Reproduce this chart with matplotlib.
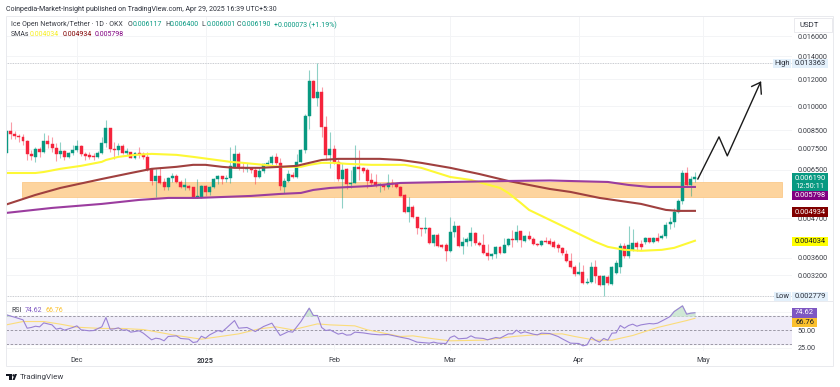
"""
ICE/USDT daily candles with SMAs and RSI, TradingView style
"""
import numpy as np
import matplotlib
matplotlib.use("Agg")
import matplotlib.pyplot as plt
from matplotlib.patches import Rectangle, Polygon, Circle

plt.rcParams["font.family"] = ["Roboto", "DejaVu Sans"]

# prices are in millionths of USDT, one entry per day from 14 Nov 2024
opens = [
    7295, 8460, 8290, 8179, 8125, 7909, 7246, 7102, 7494, 7345,
    7909, 7751, 7545, 7246, 7394, 7102, 7295, 7444, 7647, 7246,
    7198, 7150, 7102, 7295, 7803, 8631, 7494, 7444, 7647, 7295,
    7345, 7054, 7295, 7246, 7102, 6551, 6036, 6243, 5996, 5798,
    6159, 6243, 5996, 5798, 5837, 5798, 5420, 5420, 5837, 5606,
    5798, 6118, 6243, 6118, 6159, 6640, 7246, 6640, 6551, 6595,
    6500, 6201, 6456, 6775, 6821, 7102, 6821, 5798, 6036, 6285,
    6201, 6867, 7444, 9350, 11850, 10560, 11000, 8690, 7198, 7494,
    6867, 6118, 6551, 5916, 5956, 6640, 6595, 6500, 6077, 5996,
    5876, 5876, 5798, 5956, 5916, 5798, 5494, 4900, 5067, 4738,
    4400, 4370, 4400, 3977, 4197, 3924, 3924, 3769, 4283, 4459,
    3898, 4004, 4031, 4254, 3977, 3924, 3718, 3644, 3693, 3871,
    3718, 3924, 4086, 4058, 4312, 4031, 4169, 4086, 3950, 3924,
    4031, 4031, 4004, 3924, 3845, 3693, 3523, 3384, 3228, 3272,
    3038, 3058, 3384, 3185, 2997, 3163, 3017, 3250, 3384, 3898,
    3644, 3794, 3977, 3950, 4004, 4113, 4004, 4113, 4113, 4169,
    4520, 4581, 4900, 5276, 6370, 5876, 6117,
]
highs = [
    8515, 8988, 8460, 8290, 8290, 7962, 7444, 7596, 7596, 8346,
    8235, 8125, 7803, 7856, 7444, 7345, 7699, 7962, 7699, 7345,
    7345, 7295, 7394, 8125, 9110, 8631, 7856, 7803, 7751, 7545,
    7345, 7345, 7596, 7345, 7345, 6595, 6551, 6640, 6159, 6201,
    6370, 6327, 6077, 6159, 5876, 5798, 6118, 5876, 5876, 5837,
    6159, 6285, 6243, 6285, 7596, 7699, 7345, 6867, 6821, 6640,
    6640, 6640, 6821, 6954, 7198, 7295, 7054, 6159, 6500, 6413,
    7246, 7494, 9490, 12760, 11930, 13363, 11400, 9350, 8403, 7699,
    7054, 6821, 6595, 6500, 7699, 7444, 6640, 6595, 6370, 6327,
    5956, 5916, 6327, 6118, 5956, 5837, 5531, 5420, 5136, 4738,
    4400, 4738, 4429, 4226, 4254, 3950, 3977, 4738, 4612, 4489,
    4141, 4141, 4429, 4283, 4031, 4226, 3950, 3718, 3898, 3898,
    4113, 4113, 4341, 4489, 4312, 4197, 4312, 4141, 3977, 4058,
    4141, 4113, 4058, 3977, 3871, 3794, 3718, 3430, 3499, 3430,
    3142, 3499, 3547, 3206, 3206, 3206, 3407, 3547, 3977, 3977,
    4459, 4370, 4031, 4058, 4141, 4113, 4141, 4254, 4226, 4581,
    4738, 5033, 5348, 6500, 6640, 6243, 6400,
]
lows = [
    7198, 8016, 8016, 7856, 7699, 6954, 6954, 6867, 7102, 7295,
    7545, 7345, 6913, 7054, 6954, 7054, 7198, 7345, 7150, 6954,
    7007, 6954, 7054, 7246, 7596, 7345, 7007, 7198, 7246, 7198,
    7054, 7007, 7054, 7007, 6456, 5876, 5420, 5916, 5682, 5682,
    5996, 5956, 5759, 5682, 5682, 5384, 5384, 5384, 5457, 5494,
    5759, 5916, 5916, 5996, 5956, 6640, 6500, 6413, 6413, 6370,
    5916, 6159, 6370, 6730, 6730, 6730, 5682, 5568, 5996, 6159,
    6159, 6867, 7295, 8574, 10560, 10010, 8125, 6954, 6595, 6775,
    6036, 5033, 5720, 5759, 5956, 6077, 6370, 5759, 5837, 5798,
    5606, 5682, 5720, 5798, 5759, 5457, 4867, 4581, 4706, 4226,
    4169, 4254, 3950, 3898, 3871, 3845, 3523, 3743, 4141, 3871,
    3693, 3898, 3898, 3924, 3898, 3693, 3547, 3571, 3595, 3693,
    3718, 3898, 3871, 4004, 3871, 4004, 4058, 3924, 3898, 3898,
    3977, 3924, 3845, 3743, 3668, 3499, 3361, 3185, 3206, 3017,
    3017, 3038, 3038, 2977, 2779, 2997, 2997, 3228, 3250, 3595,
    3595, 3769, 3769, 3794, 3950, 3977, 3977, 4004, 4086, 4113,
    4370, 4429, 4867, 5171, 5837, 5457, 6001,
]
closes = [
    8460, 8290, 8179, 8125, 7909, 7246, 7150, 7494, 7345, 7909,
    7751, 7545, 7246, 7394, 7102, 7295, 7444, 7647, 7246, 7150,
    7102, 7102, 7295, 7803, 8631, 7494, 7444, 7647, 7295, 7394,
    7054, 7295, 7246, 7102, 6500, 6036, 6243, 5956, 5798, 6159,
    6243, 5996, 5798, 5876, 5759, 5420, 5457, 5837, 5606, 5798,
    6118, 6243, 6118, 6159, 6684, 7246, 6640, 6595, 6595, 6500,
    6201, 6456, 6775, 6821, 7102, 6821, 5837, 6036, 6327, 6201,
    6867, 7444, 9350, 11850, 10560, 11000, 8690, 7198, 7494, 6867,
    6118, 6500, 5916, 5956, 6640, 6551, 6456, 6036, 5956, 5876,
    5916, 5798, 5956, 5916, 5798, 5457, 4900, 5067, 4738, 4400,
    4370, 4400, 3977, 4197, 3898, 3871, 3769, 4283, 4459, 3898,
    4004, 4086, 4254, 3977, 3924, 3718, 3644, 3693, 3871, 3718,
    3924, 4086, 4058, 4283, 4058, 4169, 4086, 3950, 3924, 4031,
    4004, 3950, 3871, 3845, 3718, 3523, 3384, 3228, 3272, 3038,
    3058, 3384, 3185, 2997, 3185, 3038, 3384, 3476, 3898, 3644,
    3924, 3977, 3871, 3871, 4113, 4004, 4113, 4031, 4169, 4489,
    4581, 4900, 5276, 6370, 5876, 6118, 6190,
]

yellow_days = [0, 7, 9, 13, 18, 23, 24, 27, 31, 35, 41, 45, 54, 57, 62, 66, 71, 73, 76, 79,
               82, 88, 96, 100, 107, 112, 119, 121, 124, 126, 132, 137, 142, 145, 149, 153,
               158, 161, 166]
yellow_sma = [6370, 6370, 6413, 6551, 6684, 6867, 6954, 7102, 7198, 7246, 7198, 7102, 6867,
              6821, 6730, 6640, 6640, 6730, 6821, 6821, 6775, 6730, 6730, 6595, 6201, 6077,
              5759, 5568, 5206, 4966, 4581, 4283, 4004, 3871, 3794, 3769, 3794, 3845, 4034]
brown_days = [0, 7, 13, 23, 30, 35, 41, 45, 48, 52, 55, 61, 66, 70, 72, 76, 80, 90, 95, 100,
              107, 114, 121, 131, 136, 143, 153, 159, 162, 166]
brown_sma = [5153, 5494, 5759, 6118, 6370, 6551, 6640, 6730, 6730, 6640, 6595, 6595, 6640,
             6684, 6775, 6954, 7007, 7007, 6954, 6821, 6595, 6327, 6036, 5720, 5606, 5384,
             5171, 4966, 4933, 4934]
purple_days = [0, 11, 23, 32, 39, 46, 59, 66, 71, 74, 78, 88, 95, 107, 121, 131, 145, 150, 155, 166]
purple_sma = [4867, 5033, 5171, 5312, 5384, 5384, 5457, 5531, 5568, 5682, 5759, 5837, 5956,
              5996, 6036, 6056, 5996, 5876, 5798, 5798]

rsi_days = [0, 2, 4, 5, 6, 7, 8, 9, 11, 12, 13, 14, 16, 17, 18, 20, 21, 23, 24, 25, 26, 27, 28,
            29, 30, 32, 33, 35, 36, 37, 38, 39, 41, 42, 44, 45, 46, 47, 48, 49, 51, 52, 53, 55,
            56, 58, 60, 62, 64, 66, 68, 69, 71, 73, 74, 75, 76, 77, 78, 80, 81, 82, 83, 84, 86,
            88, 90, 92, 95, 97, 99, 102, 103, 104, 106, 107, 108, 109, 111, 112, 113, 115, 116,
            118, 119, 121, 122, 123, 124, 125, 127, 128, 129, 131, 133, 134, 136, 138, 139, 140,
            141, 142, 143, 144, 145, 146, 147, 148, 149, 150, 151, 152, 153, 155, 156, 157, 159,
            160, 161, 163, 164, 165, 166]
rsi_line = [71.6, 68.3, 64.6, 52.8, 53.8, 55.6, 54.7, 60.3, 57.5, 51.4, 52.8, 50, 53.8, 56.1,
            50.5, 49.1, 49.5, 54.7, 67.9, 51.4, 51.9, 53.3, 50, 50.5, 47.2, 49.1, 45.8, 36.4,
            38.7, 37.8, 35, 41.1, 42, 38.3, 37.3, 32.6, 33.6, 41.5, 38.7, 43.4, 49.5, 47.7, 52.8,
            63.6, 52.8, 53.8, 48.1, 55.2, 59.9, 42.5, 48.1, 47.2, 62.2, 81, 70.7, 70.7, 53.8,
            49.5, 50.5, 44.4, 45.8, 43, 43.4, 47.2, 46.2, 44.4, 43.4, 43.9, 40.1, 37.8, 33.1,
            31.7, 33.1, 31.7, 31.2, 39.7, 42, 37.8, 38.7, 42, 39.2, 38.3, 36.4, 39.7, 38.7, 44.8,
            44.8, 50, 45.8, 47.7, 44.4, 43.4, 45.8, 45.3, 41.1, 37.8, 31.7, 31.2, 27.9, 29.3,
            40.1, 35.9, 33.1, 38.3, 35.9, 45.8, 46.2, 56.6, 52.8, 56.6, 58.5, 55.6, 57.5, 59.4,
            58.9, 59.9, 66, 69.3, 76.3, 84.3, 72.6, 74, 74.62]
rsi_ma_days = [0, 4, 9, 13, 17, 23, 28, 33, 37, 41, 47, 51, 56, 61, 65, 69, 75, 78, 84, 87, 95,
               98, 103, 107, 115, 123, 130, 134, 137, 142, 146, 151, 157, 164, 166]
rsi_ma = [57.5, 62.2, 62.2, 58.5, 54.2, 52.4, 52.4, 50.9, 46.7, 42.5, 37.3, 40.6, 44.8, 51.9,
          54.7, 50.5, 58.9, 57.5, 56.1, 50.5, 41.1, 42, 37.8, 35, 35.9, 41.5, 44.4, 44.8, 41.1,
          35.9, 35.9, 42.5, 53.8, 63.6, 66.76]

price_ticks = [16000, 14000, 12000, 10000, 8500, 7500, 6500, 4700, 3600, 3200]
month_days = [17, 48, 79, 107, 138, 168]
month_labels = ["Dec", "2025", "Feb", "Mar", "Apr", "May"]
zone_days = [3.8, 187]
zone_prices = [5420, 5976]
arrow_days = [166.7, 171.8, 173.8, 181.8]
arrow_prices = [6118, 8125, 7150, 11740]
arrow_head_days = [179.7, 181.8, 182]
arrow_head_prices = [11420, 11740, 10850]
price_high = 13363
price_low = 2779

GREEN = "#089981"
RED = "#f5243c"
GRID = "#f3f4f6"
W, H = 840, 387
X_LEFT, X_RIGHT = 6, 792
MAIN_TOP, MAIN_BOTTOM, RSI_BOTTOM = 16, 301, 351


def panel(top, bottom):
    return [X_LEFT / W, 1 - bottom / H, (X_RIGHT - X_LEFT) / W, (bottom - top) / H]


fig = plt.figure(figsize=(W / 100, H / 100), dpi=100, facecolor="white")
ax = fig.add_axes(panel(MAIN_TOP, MAIN_BOTTOM))
rsi_ax = fig.add_axes(panel(MAIN_BOTTOM, RSI_BOTTOM))

# main price panel
days = np.arange(len(opens))
o, h, l, c = [np.array(v) * 1e-6 for v in (opens, highs, lows, closes)]
colors = np.where(c >= o, GREEN, RED)

ax.set_yscale("log")
ax.add_patch(Rectangle((zone_days[0], zone_prices[0] * 1e-6), zone_days[1] - zone_days[0],
                       (zone_prices[1] - zone_prices[0]) * 1e-6, fc="#fdd49e", ec="#fbc98a",
                       lw=0.6, zorder=1))
ax.vlines(days, l, h, colors=colors, lw=0.8, alpha=0.45, zorder=3)
ax.bar(days, np.abs(c - o), bottom=np.minimum(o, c), width=0.72, color=colors,
       edgecolor=colors, linewidth=0.3, zorder=4)
ax.plot(yellow_days, np.array(yellow_sma) * 1e-6, color="#fdf835", lw=1.5, zorder=5)
ax.plot(brown_days, np.array(brown_sma) * 1e-6, color="#a0403f", lw=1.5, zorder=5)
ax.plot(purple_days, np.array(purple_sma) * 1e-6, color="#9b3d9f", lw=1.5, zorder=5)
ax.plot(arrow_days, np.array(arrow_prices) * 1e-6, color="#1a1a1a", lw=1.0, zorder=6)
ax.plot(arrow_head_days, np.array(arrow_head_prices) * 1e-6, color="#1a1a1a", lw=1.0, zorder=6)
ax.axhline(price_high * 1e-6, color="#b8bbc2", lw=0.6, ls=(0, (1, 1)), zorder=2)
ax.axhline(price_low * 1e-6, color="#b8bbc2", lw=0.6, ls=(0, (1, 1)), zorder=2)

ax.set_xlim(-0.1, 189.4)
ax.set_ylim(0.002687, 0.01836)
ax.yaxis.tick_right()
ax.set_yticks([t * 1e-6 for t in price_ticks])
ax.set_yticklabels([f"{t * 1e-6:.6f}" for t in price_ticks])
ax.minorticks_off()
ax.tick_params(axis="y", length=0, pad=4, labelsize=5.2, labelcolor="#3a3d45")
ax.set_xticks(month_days)
ax.tick_params(axis="x", length=0, labelbottom=False)
ax.grid(True, color=GRID, lw=0.7)
ax.set_axisbelow(True)

# RSI panel
rsi_ax.axhspan(30, 70, color="#efecf8", zorder=1)
for level in (30, 50, 70):
    rsi_ax.axhline(level, color="#8f8c99", lw=0.6, ls=(0, (3, 2)), zorder=2)
rsi_ax.fill_between(rsi_days, 70, rsi_line, where=np.array(rsi_line) > 70, interpolate=True,
                    color="#cfe8d5", zorder=3)
rsi_ax.plot(rsi_ma_days, rsi_ma, color="#fbdc7a", lw=0.8, zorder=4)
rsi_ax.plot(rsi_days, rsi_line, color="#9a82d4", lw=0.8, zorder=5)
rsi_ax.set_xlim(-0.1, 189.4)
rsi_ax.set_ylim(20.6, 91.2)
rsi_ax.yaxis.tick_right()
rsi_ax.set_yticks([25, 50, 75])
rsi_ax.set_yticklabels(["25.00", "50.00", ""])
rsi_ax.tick_params(axis="y", length=0, pad=4, labelsize=5.2, labelcolor="#3a3d45")
rsi_ax.set_xticks(month_days)
rsi_ax.set_xticklabels(month_labels)
rsi_ax.get_xticklabels()[1].set_fontweight("bold")
rsi_ax.tick_params(axis="x", length=0, pad=4, labelsize=5.2, labelcolor="#3a3d45")
rsi_ax.grid(True, color=GRID, lw=0.7)
rsi_ax.set_axisbelow(True)

for a in (ax, rsi_ax):
    for s in a.spines.values():
        s.set_visible(False)

# overlay in picture pixels for header, legends, tags and frame
top = fig.add_axes([0, 0, 1, 1], zorder=10)
top.set_xlim(0, W)
top.set_ylim(H, 0)
top.axis("off")


def label(x, y, s, color="#3a3d45", size=5.2, ha="left", **kw):
    top.text(x, y, s, color=color, fontsize=size, ha=ha, va="center", **kw)


def tag(x0, x1, y0, y1, fc, s="", color="white", size=5.4):
    top.add_patch(Rectangle((x0, y0), x1 - x0, y1 - y0, fc=fc, ec="none"))
    if s:
        label((x0 + x1) / 2, (y0 + y1) / 2, s, color=color, size=size, ha="center")


FRAME = "#e9eaee"
top.add_patch(Rectangle((6, 16), 827, 350, fc="none", ec=FRAME, lw=0.7))
top.plot([6, 833], [301, 301], color=FRAME, lw=0.7)

label(6, 9.5, "Coinpedia-Market-Insight published on TradingView.com, Apr 29, 2025 16:39 UTC+5:30",
      color="#2a2e39", size=5.0)
label(10.7, 25, "Ice Open Network/Tether · 1D · OKX", size=5.0)
for x, name, value in [(128, "O", "0.006117"), (165, "H", "0.006400"),
                       (201.7, "L", "0.006001"), (237, "C", "0.006190")]:
    label(x, 25, name, size=5.0)
    label(x + 5, 25, value, color=GREEN, size=5.0)
label(274, 25, "+0.000073 (+1.19%)", color=GREEN, size=5.0)
label(10.7, 34.3, "SMAs", size=5.0)
label(30, 34.3, "0.004034", color="#f6ee1f", size=5.0)
label(62.3, 34.3, "0.004934", color="#800000", size=5.0)
label(94.3, 34.3, "0.005798", color="#800080", size=5.0)
label(11, 310, "RSI", size=5.0)
label(24.3, 310, "74.62", color="#7e57c2", size=5.0)
label(45.7, 310, "66.76", color="#fbc02d", size=5.0)

top.add_patch(Rectangle((794, 18), 38, 14, fc="white", ec="#e6e7eb", lw=0.6))
label(799, 25, "USDT", color="#2a2e39", size=5.6)

tag(773, 791, 59, 68, "#e3f0fb", "High", color="#2a2e39")
tag(792, 828, 59, 68, "#e3f0fb", "0.013363", color="#2a2e39")
tag(774, 791, 292, 301, "#e3f0fb", "Low", color="#2a2e39")
tag(792, 828, 292, 301, "#e3f0fb", "0.002779", color="#2a2e39")
tag(792, 828, 173, 190.5, GREEN)
label(810, 178, "0.006190", color="white", size=5.4, ha="center")
label(810, 186.5, "12:50:11", color="white", size=5.4, ha="center")
tag(792, 828, 191, 199.5, "#800080", "0.005798")
tag(792, 828, 207, 217, "#800000", "0.004934")
tag(792, 828, 237, 246, "#ffff00", "0.004034", color="#131722")
tag(792, 817, 308, 318, "#7e57c2", "74.62")
tag(792, 817, 318, 327, "#fbc02d", "66.76", color="#131722")

# logo and name
top.add_patch(Rectangle((6, 374), 6, 2.4, fc="#131722", ec="none"))
top.add_patch(Rectangle((9, 374), 3, 6, fc="#131722", ec="none"))
top.add_patch(Circle((13.6, 375.4), 1.2, fc="#131722", ec="none"))
top.add_patch(Polygon([(12.4, 380), (15, 374), (17, 374), (14.6, 380)], fc="#131722", ec="none"))
label(19.5, 377, "TradingView", color="#3a3d45", size=5.8)

fig.savefig("out.png", dpi=100)
